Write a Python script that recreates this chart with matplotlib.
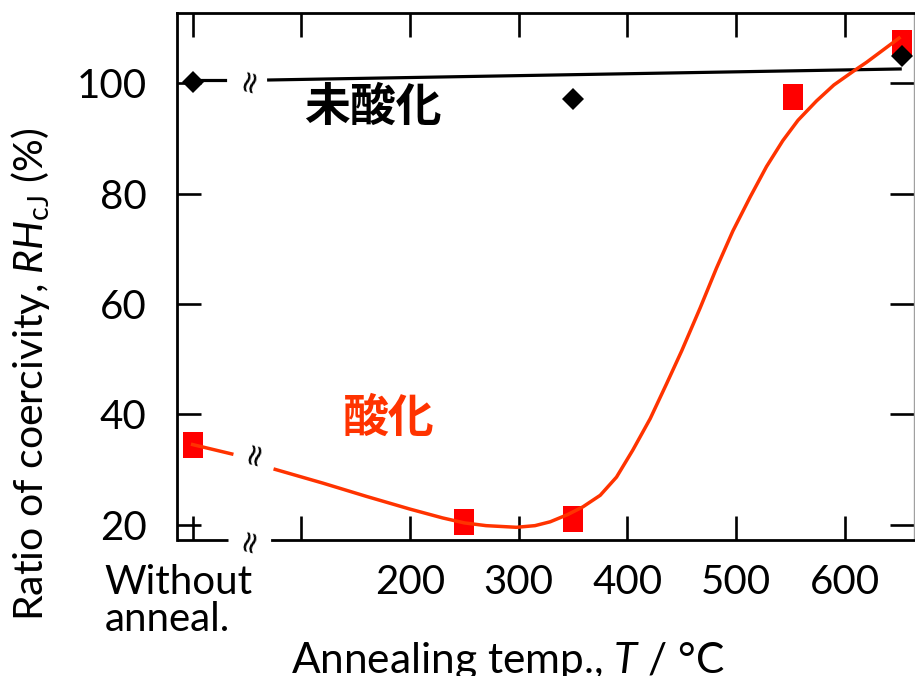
import matplotlib
matplotlib.use("Agg")
import matplotlib.pyplot as plt
from matplotlib.transforms import blended_transform_factory

plt.rcParams['font.family'] = ['Lato', 'Noto Sans CJK JP', 'DejaVu Sans']
plt.rcParams['mathtext.fontset'] = 'custom'
plt.rcParams['mathtext.rm'] = 'Lato'
plt.rcParams['mathtext.it'] = 'Lato:italic'

# measured points (Without anneal. is placed at T = 0)
T_unox = [0, 350, 653]
RH_unox = [100.3, 97.1, 105.0]
T_ox = [0, 250, 350, 552, 653]
RH_ox = [34.5, 20.4, 21.0, 97.6, 107.3]

# straight guide line for the un-oxidised samples, split by the axis break
fit_T_left = [0, 30]
fit_RH_left = [100.6, 100.6]
fit_T_right = [70, 651]
fit_RH_right = [100.6, 102.6]

# guide curve for the oxidised samples
curve_T_left = [0, 36]
curve_RH_left = [34.5, 32.8]
curve_T_right = [76, 120, 160, 200, 230, 250, 270, 298, 315, 329, 345, 359,
                 375, 390, 405, 421, 436, 450, 467, 482, 497, 513, 528, 543,
                 557, 574, 590, 608, 620, 635, 650]
curve_RH_right = [30.0, 27.5, 25.1, 22.8, 21.2, 20.3, 19.8, 19.5, 19.8, 20.5,
                  21.8, 23.2, 25.3, 28.6, 33.5, 39.2, 45.5, 51.5, 59.3, 66.5,
                  73.2, 79.4, 84.9, 89.6, 93.3, 96.8, 99.7, 102.2, 103.8,
                  106.0, 108.2]

xticks = [0, 100, 200, 300, 400, 500, 600]
xticklabels = ['', '', '200', '300', '400', '500', '600']
yticks = [20, 40, 60, 80, 100]

red = '#ff0000'
orange = '#ff3300'
rect = [(-0.8, -1), (0.8, -1), (0.8, 1), (-0.8, 1), (-0.8, -1)]

fig = plt.figure(figsize=(9.15, 6.76), dpi=100)
ax = fig.add_axes([0.1934, 0.2012, 0.8055, 0.7796])
ax.set_xlim(-14.4, 663.7)
ax.set_ylim(17.2, 112.75)

ax.plot(fit_T_left, fit_RH_left, color='k', lw=2.3, zorder=2)
ax.plot(fit_T_right, fit_RH_right, color='k', lw=2.3, zorder=2)
ax.plot(T_ox, RH_ox, ls='none', marker=rect, ms=18.5, color=red, mew=0, zorder=3)
ax.plot(T_unox, RH_unox, ls='none', marker='D', ms=11.5, color='k', mew=0, zorder=4)
ax.plot(curve_T_left, curve_RH_left, color=orange, lw=2.5, zorder=5)
ax.plot(curve_T_right, curve_RH_right, color=orange, lw=2.5, zorder=5,
        solid_joinstyle='round')

# break marks
for bx, by in [(53, 100.6), (57, 33.0)]:
    ax.text(bx, by, '≈', family='DejaVu Sans', fontsize=22, rotation=75,
            ha='center', va='center', zorder=6)
tr = blended_transform_factory(ax.transData, ax.transAxes)
ax.text(53, 0, '≈', family='DejaVu Sans', fontsize=22, rotation=75,
        ha='center', va='center', transform=tr, clip_on=False)

# bottom spine with a gap for the break
ax.spines['bottom'].set_bounds(73.3, 663.7)
ax.plot([-14.4, 32.8], [0, 0], color='k', lw=2, transform=tr, clip_on=False,
        solid_capstyle='butt')

for s in ['left', 'top', 'bottom']:
    ax.spines[s].set_linewidth(2)
ax.spines['right'].set_linewidth(1)
ax.spines['right'].set_color('#a0a0a0')

ax.set_xticks(xticks)
ax.set_xticklabels(xticklabels)
ax.set_yticks(yticks)
ax.tick_params(axis='both', direction='in', length=17, width=1.9,
               labelsize=29, top=True, right=True)
ax.tick_params(axis='x', pad=17)
ax.tick_params(axis='y', pad=22)

ax.annotate('Without\nanneal.', xy=(0, 0), xycoords=tr, xytext=(-10, -17),
            textcoords='offset points', ha='center', va='top',
            multialignment='left', fontsize=29, linespacing=1.0)

ax.text(166, 95.5, '未酸化', family='Noto Sans CJK JP', fontweight='bold',
        fontsize=33, color='k', ha='center', va='center')
ax.text(180, 39.1, '酸化', family='Noto Sans CJK JP', fontweight='bold',
        fontsize=33, color=orange, ha='center', va='center')

ax.set_xlabel('Annealing temp., $\\mathit{T}$ / °C', fontsize=30.5)
ax.xaxis.set_label_coords(0.449, -0.19)
ax.set_ylabel('Ratio of coercivity, $\\mathit{RH}_{\\mathrm{cJ}}$ (%)', fontsize=29.5)
ax.yaxis.set_label_coords(-0.17, 0.315)

fig.savefig('out.png', dpi=100)
